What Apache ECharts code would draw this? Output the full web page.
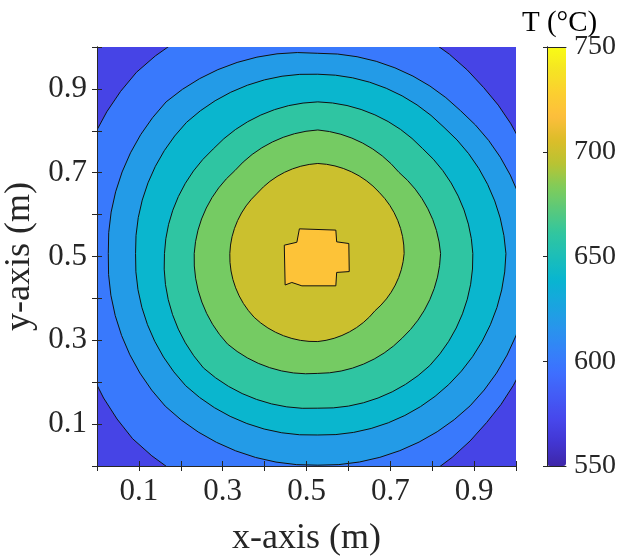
<!DOCTYPE html>
<html>
<head>
<meta charset="utf-8">
<script src="https://cdn.jsdelivr.net/npm/echarts@6/dist/echarts.min.js"></script>
<style>
  html, body { margin: 0; padding: 0; background: #ffffff; }
  #chart { width: 622px; height: 557px; }
</style>
</head>
<body>
<div id="chart"></div>
<script>
// ---- data ----
// contour levels (°C) drawn as closed curves around the hot spot
const contourLevels = [600, 620, 640, 660, 680, 700];
// value of the outermost (corner) band
const cornerBandValue = 570;
// level of the innermost contour (hot spot)
const peakLevel = 720;
// centre of the contour family (m)
const contourCenter = [0.527, 0.507];
// directions (deg) in which the contour radii were read
const contourAngles = [0, 45, 90, 135, 180, 225, 270, 315];
// contour radii (m) per direction
const r600 = [0.54, 0.56, 0.60, 0.612, 0.59, 0.625, 0.62, 0.57];
const r620 = [0.51, 0.482, 0.478, 0.512, 0.50, 0.515, 0.505, 0.514];
const r640 = [0.449, 0.426, 0.428, 0.443, 0.435, 0.446, 0.433, 0.442];
const r660 = [0.370, 0.354, 0.362, 0.353, 0.366, 0.386, 0.369, 0.378];
const r680 = [0.293, 0.274, 0.295, 0.280, 0.295, 0.305, 0.286, 0.285];
const r700 = [0.206, 0.207, 0.215, 0.204, 0.210, 0.215, 0.210, 0.193];
// the 720 °C contour (blocky hot spot), vertices in metres
const peakX = [0.483, 0.570, 0.572, 0.601, 0.602, 0.572, 0.570, 0.489, 0.465, 0.449, 0.447, 0.477];
const peakY = [0.566, 0.563, 0.535, 0.531, 0.464, 0.462, 0.430, 0.430, 0.438, 0.432, 0.527, 0.534];
// axis ticks
const xTickLabels = ['0.1', '0.3', '0.5', '0.7', '0.9'];
const yTickLabels = ['0.1', '0.3', '0.5', '0.7', '0.9'];
const colorbarTicks = [550, 600, 650, 700, 750];
const colorbarTitle = 'T (°C)';
const xName = 'x-axis (m)';
const yName = 'y-axis (m)';
// parula colour map
const parula = ['#3e26a8', '#4236d2', '#4747eb', '#435bf5', '#3e6fff', '#3383f8', '#2796eb', '#18a6de',
  '#08b5d0', '#1cbeb8', '#31c69f', '#59c97c', '#81cc59', '#b9c332', '#dcbd29', '#fdbe3c',
  '#fccf30', '#f5e423', '#f9fb15'];

// ---- build shapes (in data units) ----
const radiiByLevel = [r600, r620, r640, r660, r680, r700];
const bandShapes = [];
const bandData = [];
bandShapes.push({ kind: 'poly', points: [[0, 0], [1, 0], [1, 1], [0, 1]], line: false });
bandData.push({ value: [cornerBandValue, 0, 0.5, 0.5] });
contourLevels.forEach(function (lv, i) {
  const rr = radiiByLevel[i];
  const pts = contourAngles.map(function (a, k) {
    const t = a * Math.PI / 180;
    return [contourCenter[0] + rr[k] * Math.cos(t), contourCenter[1] + rr[k] * Math.sin(t)];
  });
  bandShapes.push({ kind: 'arcs', points: pts, radii: rr, line: true });
  bandData.push({ value: [lv, bandShapes.length - 1, 0.5, 0.5] });
});
bandShapes.push({ kind: 'poly', points: peakX.map(function (x, k) { return [x, peakY[k]]; }), line: true });
bandData.push({ value: [peakLevel, bandShapes.length - 1, 0.5, 0.5] });

const serif = "'Liberation Serif', 'Times New Roman', serif";
const ink = '#262626';

function tickFmt(labels) {
  return function (v) { const s = v.toFixed(1); return labels.indexOf(s) >= 0 ? s : ''; };
}

const G = { left: 97, top: 47, width: 419, height: 419 };
const CB = { left: 547, top: 47, width: 19, height: 419 };

const axisLineStyle = { show: true, lineStyle: { color: ink, width: 1 } };

function renderBand(params, api) {
  const idx = api.value(1);
  const sh = bandShapes[idx];
  const pts = sh.points.map(function (p) { return api.coord(p); });
  const style = { fill: api.visual('color'), stroke: sh.line ? '#111111' : null, lineWidth: 1 };
  if (sh.kind === 'poly') {
    return { type: 'polygon', shape: { points: pts }, style: style };
  }
  const unit = api.size([1, 1]);
  const n = pts.length;
  let d = 'M' + pts[0][0].toFixed(2) + ' ' + pts[0][1].toFixed(2);
  for (let k = 0; k < n; k++) {
    const nx = (k + 1) % n;
    const R = 0.5 * (sh.radii[k] + sh.radii[nx]) * unit[0];
    d += ' A' + R.toFixed(2) + ' ' + R.toFixed(2) + ' 0 0 0 ' + pts[nx][0].toFixed(2) + ' ' + pts[nx][1].toFixed(2);
  }
  d += ' Z';
  return { type: 'path', shape: { pathData: d }, style: style };
}

const option = {
  animation: false,
  backgroundColor: '#ffffff',
  title: {
    text: colorbarTitle, left: 517, top: 4,
    textStyle: { fontFamily: serif, fontSize: 29, fontWeight: 'normal', color: '#000' }
  },
  grid: [
    Object.assign({ outerBoundsMode: 'none', containLabel: false }, G),
    Object.assign({ outerBoundsMode: 'none', containLabel: false }, CB)
  ],
  xAxis: [
    { gridIndex: 0, type: 'value', min: 0, max: 1, interval: 0.1, position: 'bottom', z: 10,
      axisLine: axisLineStyle, axisTick: { inside: true, length: 5, lineStyle: { color: ink } },
      axisLabel: { formatter: tickFmt(xTickLabels), fontFamily: serif, fontSize: 31, color: ink, margin: 10 },
      splitLine: { show: false },
      name: xName, nameLocation: 'middle', nameGap: 55,
      nameTextStyle: { fontFamily: serif, fontSize: 36, color: ink } },
    { gridIndex: 0, type: 'value', min: 0, max: 1, interval: 0.1, position: 'top', z: 10,
      axisLine: axisLineStyle, axisTick: { inside: true, length: 5, lineStyle: { color: ink } },
      axisLabel: { show: false }, splitLine: { show: false } },
    { gridIndex: 1, type: 'value', min: 0, max: 1, position: 'bottom', z: 10,
      axisLine: axisLineStyle, axisTick: { show: false }, axisLabel: { show: false }, splitLine: { show: false } },
    { gridIndex: 1, type: 'value', min: 0, max: 1, position: 'top', z: 10,
      axisLine: axisLineStyle, axisTick: { show: false }, axisLabel: { show: false }, splitLine: { show: false } }
  ],
  yAxis: [
    { gridIndex: 0, type: 'value', min: 0, max: 1, interval: 0.1, position: 'left', z: 10,
      axisLine: axisLineStyle, axisTick: { inside: true, length: 5, lineStyle: { color: ink } },
      axisLabel: { formatter: tickFmt(yTickLabels), fontFamily: serif, fontSize: 31, color: ink, margin: 10 },
      splitLine: { show: false },
      name: yName, nameLocation: 'middle', nameGap: 37,
      nameTextStyle: { fontFamily: serif, fontSize: 36, color: ink } },
    { gridIndex: 0, type: 'value', min: 0, max: 1, interval: 0.1, position: 'right', z: 10,
      axisLine: axisLineStyle, axisTick: { inside: true, length: 5, lineStyle: { color: ink } },
      axisLabel: { show: false }, splitLine: { show: false } },
    { gridIndex: 1, type: 'value', min: colorbarTicks[0], max: colorbarTicks[colorbarTicks.length - 1],
      interval: colorbarTicks[1] - colorbarTicks[0], position: 'right', z: 10,
      axisLine: axisLineStyle, axisTick: { inside: true, length: 4, lineStyle: { color: ink } },
      axisLabel: { fontFamily: serif, fontSize: 28, color: ink, margin: 8 }, splitLine: { show: false } },
    { gridIndex: 1, type: 'value', min: 0, max: 1, position: 'left', z: 10,
      axisLine: axisLineStyle, axisTick: { show: false }, axisLabel: { show: false }, splitLine: { show: false } }
  ],
  visualMap: {
    type: 'continuous', min: colorbarTicks[0], max: colorbarTicks[colorbarTicks.length - 1],
    dimension: 0, seriesIndex: 0, calculable: false, hoverLink: false,
    orient: 'vertical', left: CB.left, top: CB.top, itemWidth: CB.width, itemHeight: CB.height,
    padding: 0, text: null, showLabel: false,
    inRange: { color: parula }
  },
  series: [{
    type: 'custom', xAxisIndex: 0, yAxisIndex: 0, clip: true, silent: true,
    encode: { x: 2, y: 3 },
    data: bandData,
    renderItem: renderBand
  }]
};

const chart = echarts.init(document.getElementById('chart'), null, { renderer: 'canvas' });
chart.setOption(option);
</script>
</body>
</html>
